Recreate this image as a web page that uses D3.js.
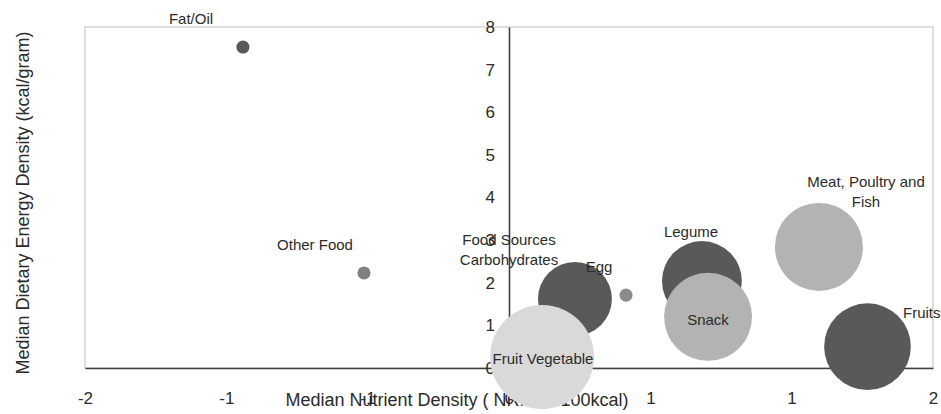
<!DOCTYPE html>
<html>
<head>
<meta charset="utf-8">
<script src="https://cdn.jsdelivr.net/npm/d3@7"></script>
<style>
  body { margin: 0; background: #fff; }
  svg text { font-family: "Liberation Sans", Arial, sans-serif; fill: #2b2b2b; }
</style>
</head>
<body>
<script>
// food groups, values
var foods  = ["Fat/Oil", "Other Food", "Food Sources Carbohydrates", "Egg", "Legume", "Meat, Poultry and Fish", "Fruits", "Snack", "Fruit Vegetable"];
var nutrient = [-1.255, -0.684, 0.311, 0.552, 0.91, 1.462, 1.691, 0.939, 0.156];   // x
var energy   = [7.53, 2.23, 1.62, 1.71, 2.04, 2.84, 0.50, 1.20, 0.26];             // y
var bubbleSize = [1.5, 1.5, 48, 1.5, 56, 68, 66, 68, 95];
var shade = ["#595959", "#808080", "#595959", "#8c8c8c", "#595959", "#b3b3b3", "#595959", "#b3b3b3", "#d9d9d9"];

var xTicks = [-2, -1.333, -0.667, 0, 0.667, 1.333, 2];
var yTicks = [0, 1, 2, 3, 4, 5, 6, 7, 8];

var width = 941, height = 414;

var svg = d3.select("body").append("svg")
  .attr("width", width)
  .attr("height", height);

var x = d3.scaleLinear().domain([-2, 2]).range([85, 933]);
var y = d3.scaleLinear().domain([0, 8]).range([368, 27]);
var r = d3.scaleSqrt().domain([0, d3.max(bubbleSize)]).range([0, 52]);

// plot area border
svg.append("rect")
  .attr("x", x(-2)).attr("y", y(8))
  .attr("width", x(2) - x(-2)).attr("height", y(0) - y(8))
  .attr("fill", "none")
  .attr("stroke", "#c8c8c8")
  .attr("stroke-width", 1.2);

// x axis through y = 0
var xAxis = d3.axisBottom(x)
  .tickValues(xTicks)
  .tickSize(0)
  .tickPadding(24)
  .tickFormat(d => String(Math.round(d)));

var gx = svg.append("g")
  .attr("transform", "translate(0," + y(0) + ")")
  .call(xAxis);
gx.select(".domain").attr("stroke", "#404040").attr("stroke-width", 1.6);
gx.selectAll("text").style("font-size", "17px").attr("fill", "#2b2b2b");

// y axis through x = 0
var yAxis = d3.axisLeft(y)
  .tickValues(yTicks)
  .tickSize(0)
  .tickPadding(14)
  .tickFormat(d3.format("d"));

var gy = svg.append("g")
  .attr("transform", "translate(" + x(0) + ",0)")
  .call(yAxis);
gy.select(".domain").attr("stroke", "#404040").attr("stroke-width", 1.6);
gy.selectAll("text").style("font-size", "17px").attr("fill", "#2b2b2b");

// axis titles
svg.append("text")
  .attr("x", 457).attr("y", 406)
  .attr("text-anchor", "middle")
  .style("font-size", "18px")
  .text("Median Nutrient Density ( NRF9.3/100kcal)");

svg.append("text")
  .attr("transform", "translate(29,203) rotate(-90)")
  .attr("text-anchor", "middle")
  .style("font-size", "18px")
  .text("Median Dietary Energy Density (kcal/gram)");

// bubbles
svg.selectAll("circle.bubble")
  .data(foods)
  .enter()
  .append("circle")
  .attr("class", "bubble")
  .attr("cx", (d, i) => x(nutrient[i]))
  .attr("cy", (d, i) => y(energy[i]))
  .attr("r", (d, i) => r(bubbleSize[i]))
  .attr("fill", (d, i) => shade[i]);

// data labels, placed by hand like in the original
var labels = [
  { t: ["Fat/Oil"], x: 191, y: 24, a: "middle" },
  { t: ["Other Food"], x: 315, y: 250, a: "middle" },
  { t: ["Food Sources", "Carbohydrates"], x: 509, y: 245, a: "middle" },
  { t: ["Egg"], x: 599, y: 272, a: "middle" },
  { t: ["Legume"], x: 691, y: 237, a: "middle" },
  { t: ["Meat, Poultry and", "Fish"], x: 866, y: 187, a: "middle" },
  { t: ["Fruits"], x: 903, y: 318, a: "start" },
  { t: ["Snack"], x: 708, y: 325, a: "middle" },
  { t: ["Fruit Vegetable"], x: 543, y: 364, a: "middle" }
];

labels.forEach(function (l) {
  var txt = svg.append("text")
    .attr("x", l.x).attr("y", l.y)
    .attr("text-anchor", l.a)
    .style("font-size", "15px");
  l.t.forEach(function (line, k) {
    txt.append("tspan")
      .attr("x", l.x)
      .attr("dy", k == 0 ? 0 : 20)
      .text(line);
  });
});
</script>
</body>
</html>
